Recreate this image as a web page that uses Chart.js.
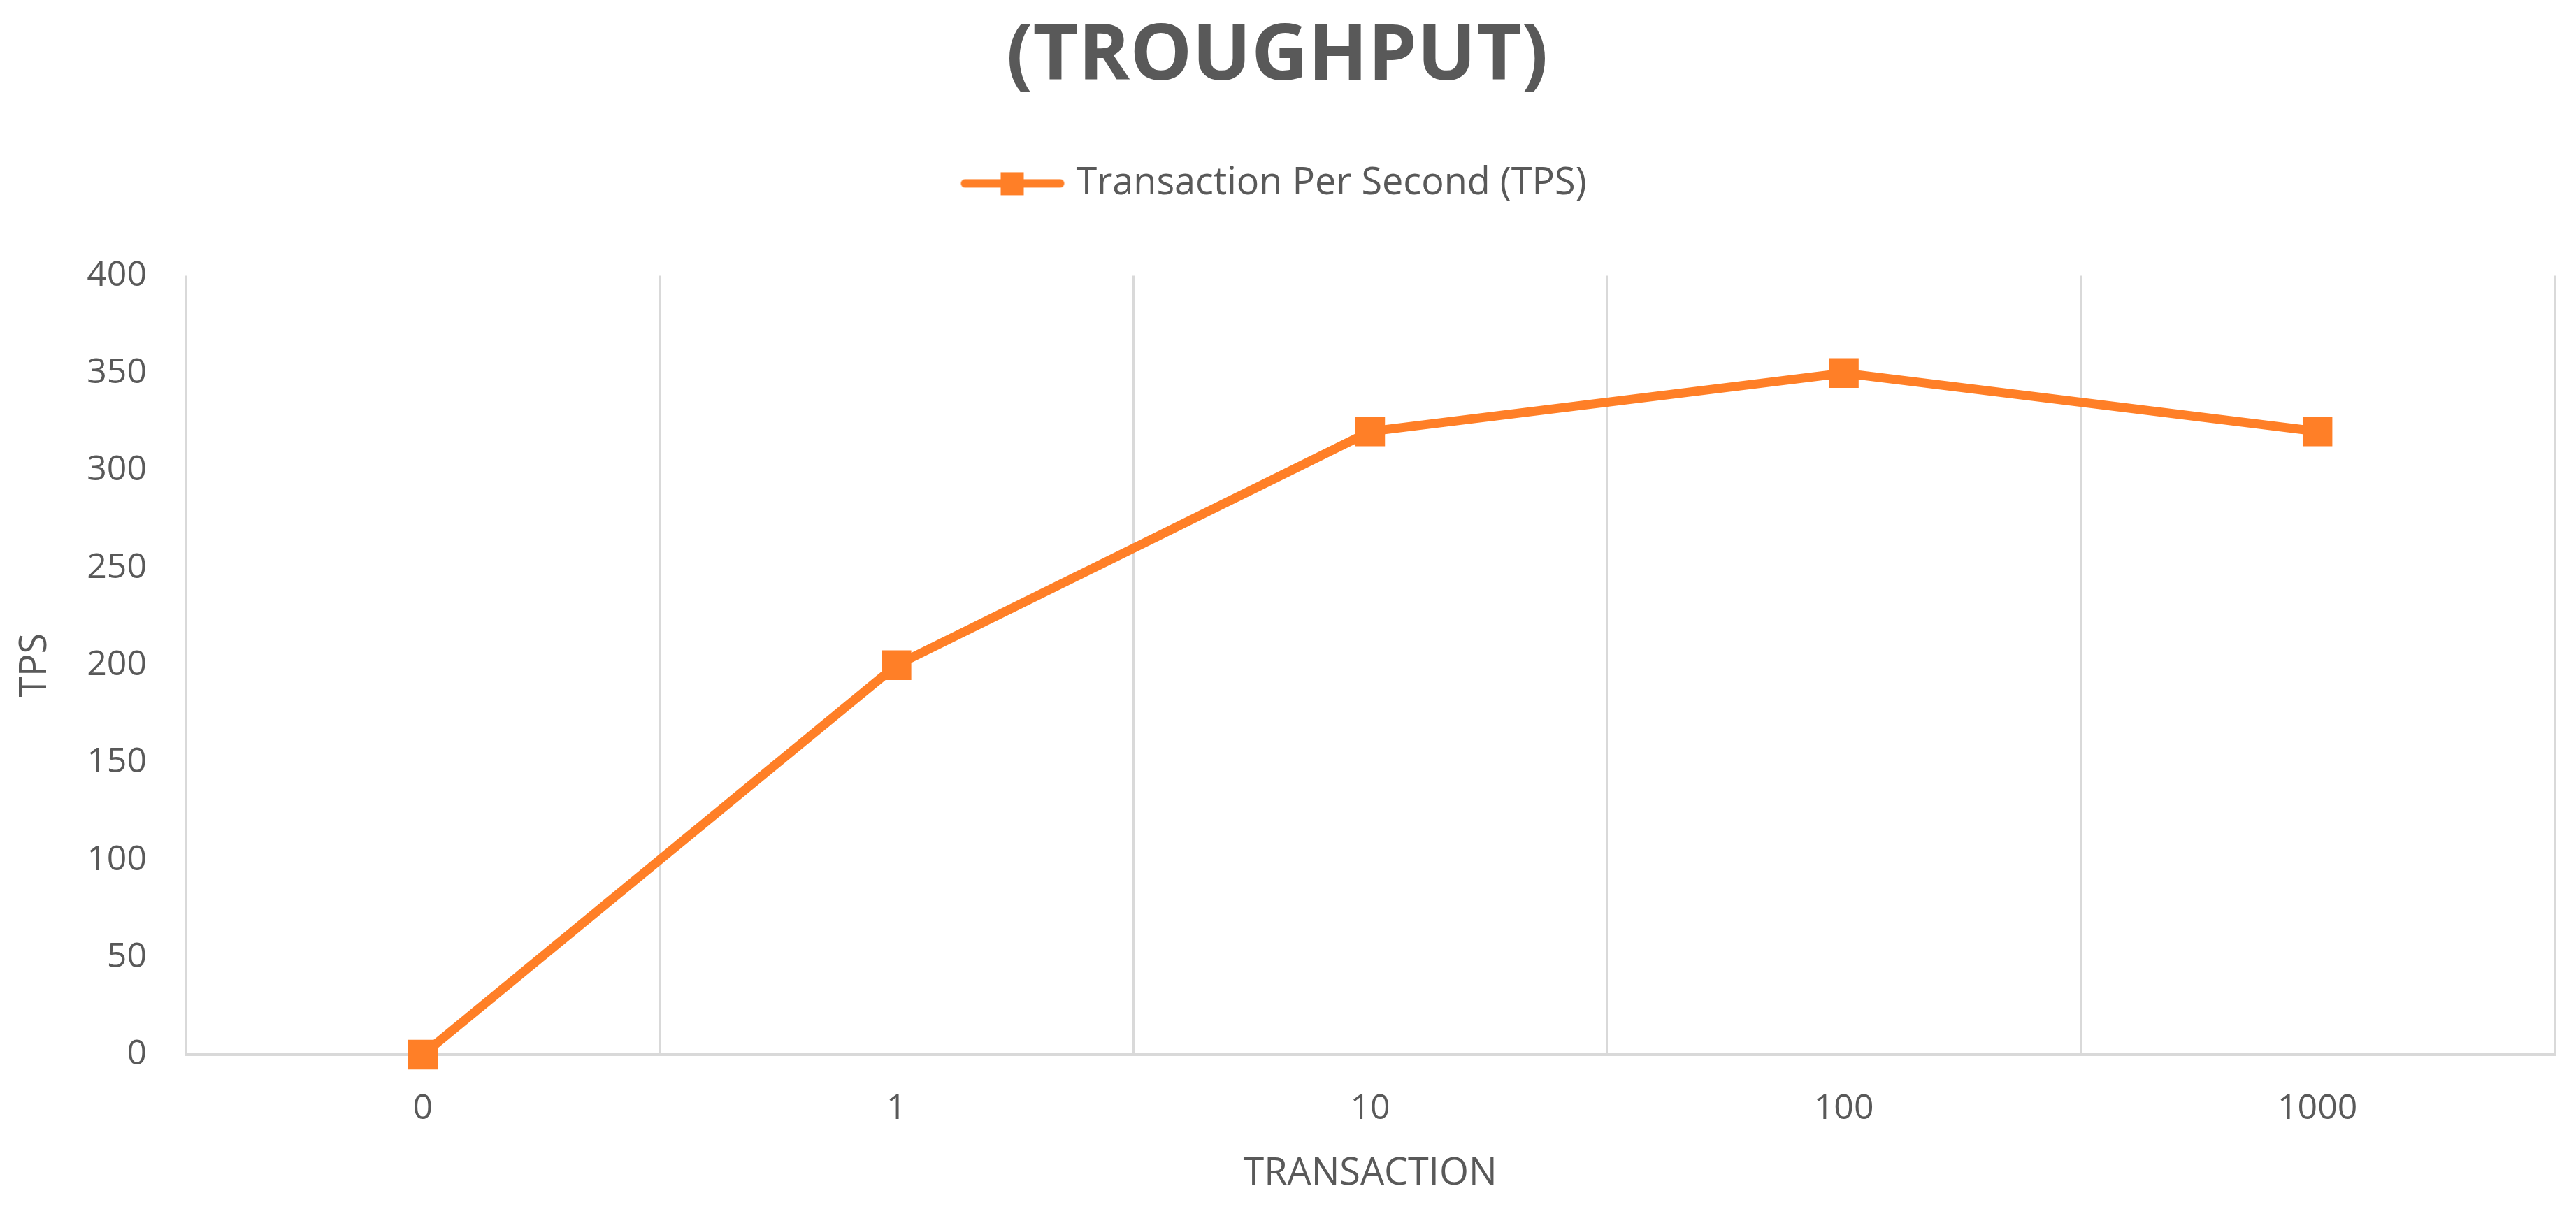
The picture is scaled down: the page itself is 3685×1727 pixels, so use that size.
<!DOCTYPE html>
<html>
<head>
<meta charset="utf-8">
<title>Throughput</title>
<script src="https://cdn.jsdelivr.net/npm/chart.js@4/dist/chart.umd.min.js"></script>
<style>
  html, body { margin: 0; padding: 0; background: #fff; }
  #wrap { width: 3685px; height: 1727px; }
</style>
</head>
<body>
<div id="wrap"><canvas id="tpsChart" width="3685" height="1727"></canvas></div>
<script>
// data
const transactions = ["0", "1", "10", "100", "1000"];
const tpsValues = [0, 200, 320, 350, 320];
const yTicks = [0, 50, 100, 150, 200, 250, 300, 350, 400];

const orange = "#FF7F27";
const textGray = "#595959";
const gridGray = "#D9D9D9";
const fontFamily = "'Open Sans', 'Liberation Sans', sans-serif";

// legend icon: line with square marker (like Excel)
function legendIcon() {
  const c = document.createElement("canvas");
  c.width = 150;
  c.height = 36;
  const g = c.getContext("2d");
  g.strokeStyle = orange;
  g.lineWidth = 12;
  g.lineCap = "round";
  g.beginPath();
  g.moveTo(7, 18);
  g.lineTo(143, 18);
  g.stroke();
  g.fillStyle = orange;
  g.fillRect(58, 2, 33, 33);
  return c;
}

// extra room under the legend, before the plot starts
const legendSpacer = {
  id: "legendSpacer",
  afterInit: function (chart) {
    const lg = chart.legend;
    if (!lg) return;
    const fit = lg.fit;
    lg.fit = function () {
      fit.call(this);
      this.height += 95;
    };
  },
};

document.addEventListener("DOMContentLoaded", function () {
  const ctx = document.getElementById("tpsChart");
  const icon = legendIcon();

  new Chart(ctx, {
    type: "line",
    data: {
      labels: transactions,
      datasets: [
        {
          label: "Transaction Per Second (TPS)",
          data: tpsValues,
          borderColor: orange,
          backgroundColor: orange,
          borderWidth: 13,
          pointStyle: "rect",
          pointRadius: 30,
          pointHoverRadius: 30,
          pointBackgroundColor: orange,
          pointBorderColor: orange,
          pointBorderWidth: 0,
          tension: 0,
          clip: false,
        },
      ],
    },
    plugins: [legendSpacer],
    options: {
      responsive: false,
      animation: false,
      layout: { padding: { left: 0, right: 31, top: 0, bottom: 0 } },
      plugins: {
        title: {
          display: true,
          text: "(TROUGHPUT)",
          color: textGray,
          font: { family: fontFamily, size: 112, weight: "bold" },
          padding: { top: 15, bottom: 66 },
        },
        legend: {
          display: true,
          labels: {
            color: textGray,
            font: { family: fontFamily, size: 54 },
            usePointStyle: true,
            pointStyleWidth: 128,
            padding: 20,
            generateLabels: function (chart) {
              const ds = chart.data.datasets[0];
              return [{ text: ds.label, fontColor: textGray, pointStyle: icon, fillStyle: orange, strokeStyle: orange, lineWidth: 0, datasetIndex: 0 }];
            },
          },
        },
        tooltip: { enabled: false },
      },
      scales: {
        x: {
          offset: true,
          grid: { display: true, offset: true, color: gridGray, lineWidth: 3, drawTicks: false },
          border: { display: true, color: gridGray, width: 4 },
          ticks: { color: textGray, font: { family: fontFamily, size: 50 }, padding: 48 },
          title: {
            display: true,
            text: "TRANSACTION",
            color: textGray,
            font: { family: fontFamily, size: 54 },
            padding: { top: 0, bottom: 15 },
          },
          afterFit: function (scale) { scale.height = 218; },
        },
        y: {
          min: 0,
          max: 400,
          afterBuildTicks: function (scale) {
            scale.ticks = yTicks.map(function (v) { return { value: v }; });
          },
          grid: { display: false, drawTicks: false },
          border: { display: false },
          ticks: { color: textGray, font: { family: fontFamily, size: 50 }, padding: 56 },
          title: {
            display: true,
            text: "TPS",
            color: textGray,
            font: { family: fontFamily, size: 54 },
            padding: { top: 18, bottom: 0 },
          },
          afterFit: function (scale) { scale.width = 266; },
        },
      },
    },
  });
});
</script>
</body>
</html>
